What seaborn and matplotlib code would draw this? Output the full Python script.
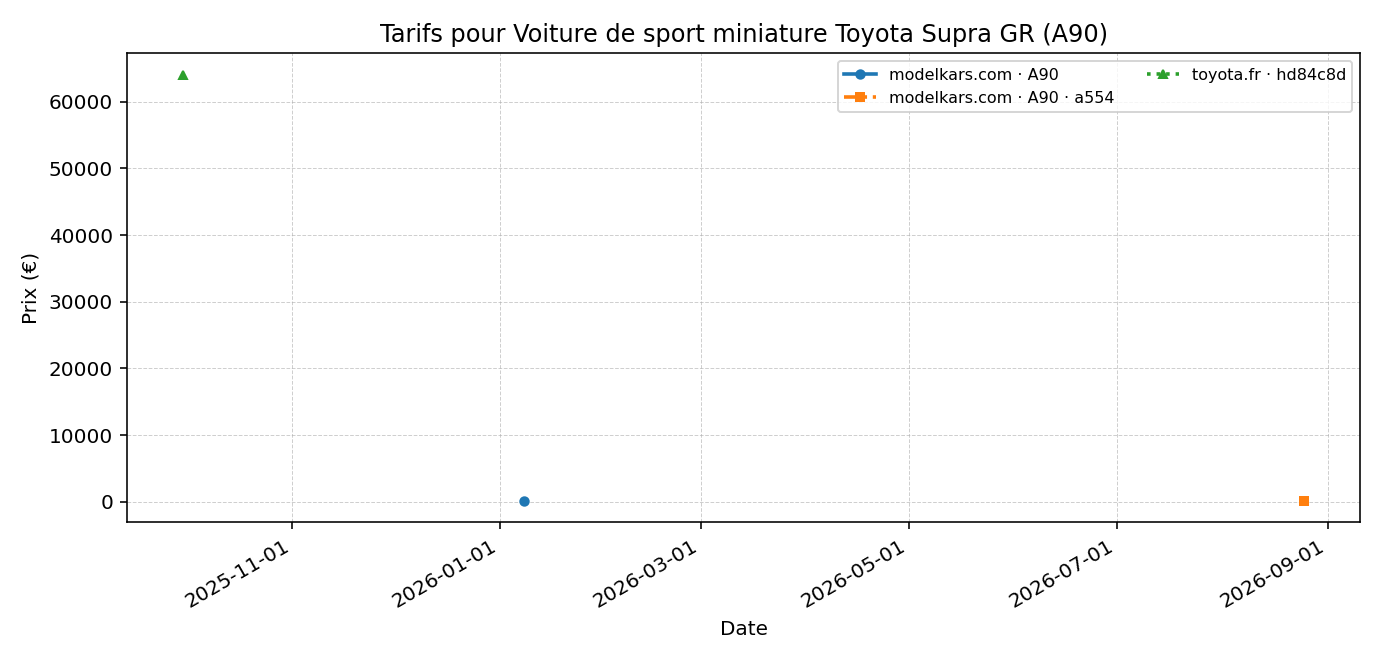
import matplotlib
matplotlib.use('Agg')
import matplotlib.pyplot as plt
import matplotlib.dates as mdates
import pandas as pd
import seaborn as sns

# Data
series_labels = ["modelkars.com · A90", "modelkars.com · A90 · a554", "toyota.fr · hd84c8d"]
series_dates = [["2026-01-08"], ["2026-08-25"], ["2025-09-30"]]
series_prices = [[90], [140], [64040]]
series_markers = ["o", "s", "^"]
series_styles = ["-", "-.", ":"]
colors = ["#1f77b4", "#ff7f0e", "#2ca02c"]

fig, ax = plt.subplots(figsize=(9.6, 4.6), dpi=144)

for label, dates, prices, mk, ls, c in zip(series_labels, series_dates, series_prices,
                                            series_markers, series_styles, colors):
    df = pd.DataFrame({"date": pd.to_datetime(dates), "price": prices})
    sns.lineplot(data=df, x="date", y="price", ax=ax, label=label, color=c,
                 marker=mk, linestyle=ls, linewidth=1.8, markersize=4.2,
                 markeredgewidth=1, markeredgecolor=c)

ax.set_title("Tarifs pour Voiture de sport miniature Toyota Supra GR (A90)", fontsize=12)
ax.set_xlabel("Date")
ax.set_ylabel("Prix (€)")
ax.grid(True, linestyle="--", linewidth=0.5, alpha=0.6)

ax.xaxis.set_major_locator(mdates.MonthLocator(bymonth=[1, 3, 5, 7, 9, 11]))
ax.xaxis.set_major_formatter(mdates.DateFormatter("%Y-%m-%d"))
ax.legend(ncol=2, fontsize=8, loc="upper right")
fig.autofmt_xdate()

fig.subplots_adjust(left=0.092, right=0.984, top=0.919, bottom=0.211)
fig.savefig("out.png", dpi=144)
plt.close(fig)
